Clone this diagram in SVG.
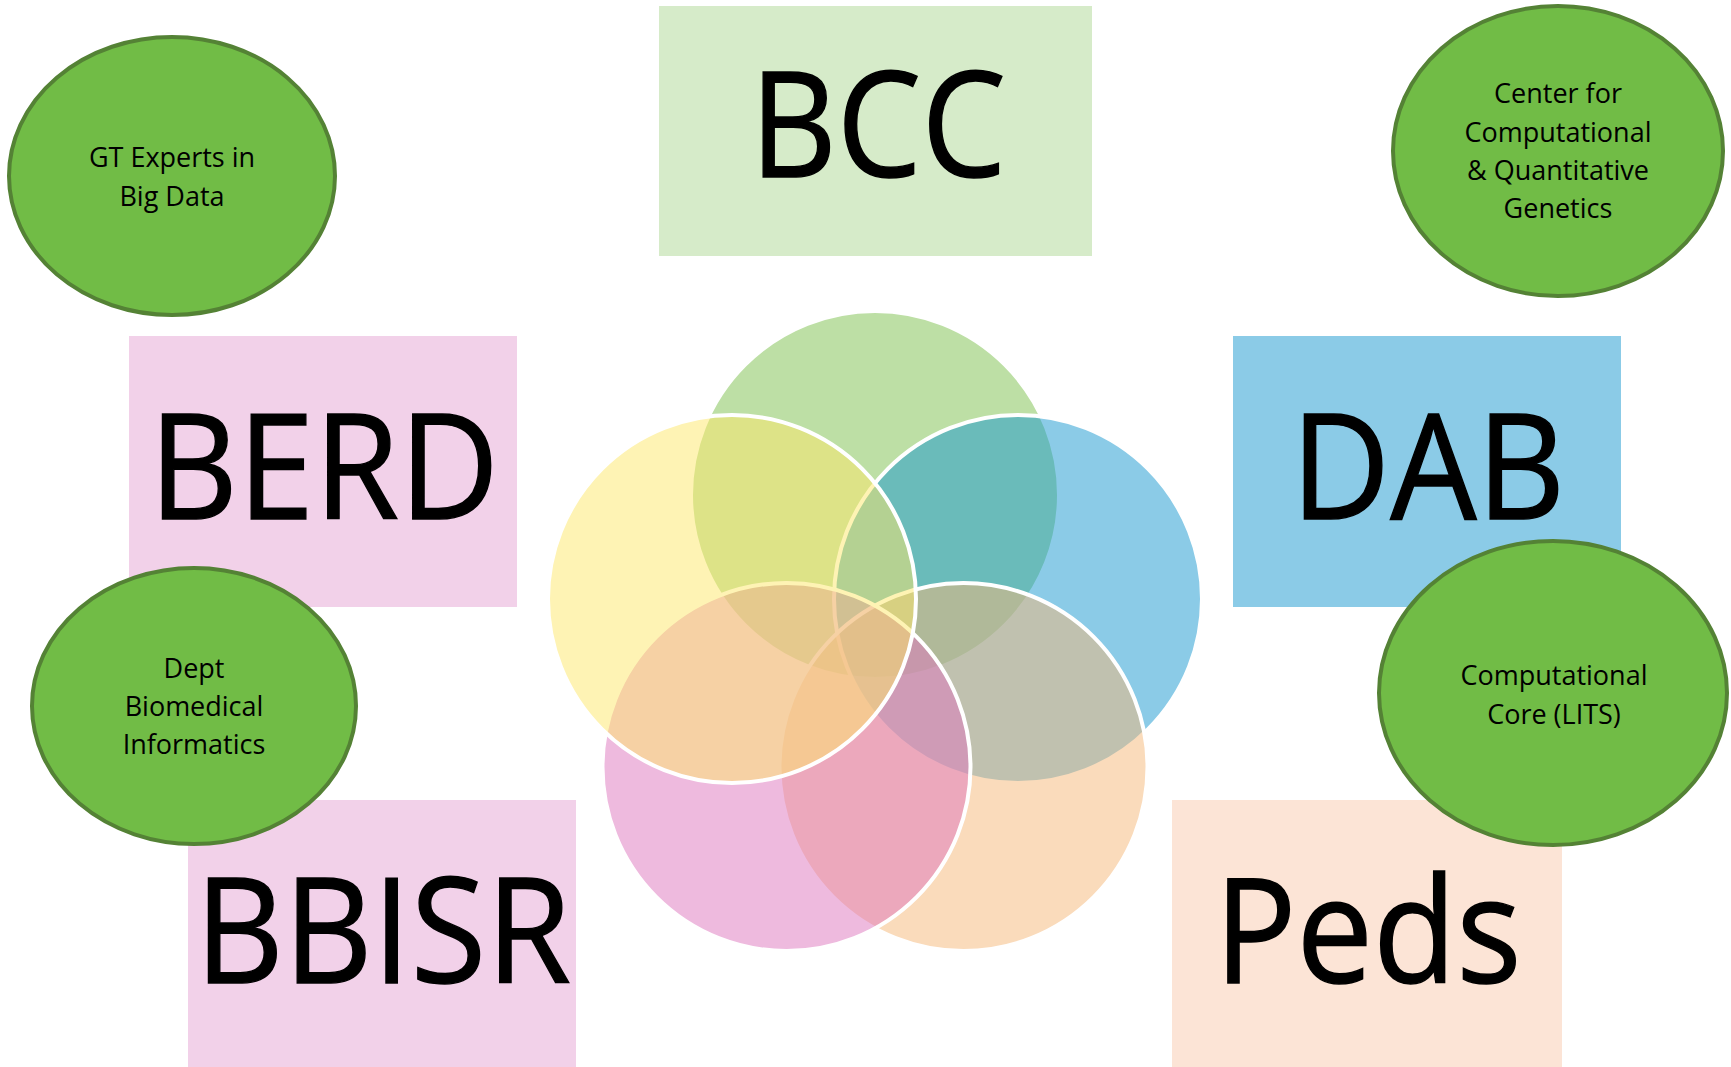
<svg xmlns="http://www.w3.org/2000/svg" width="1731" height="1067" viewBox="0 0 1731 1067">
  <style>
    .label { font-family: "Open Sans", "Liberation Sans", sans-serif; font-size: 146px; fill: #000; stroke: #000; stroke-width: 1.4; text-anchor: middle; }
    .org { fill: #71bc46; stroke: #548235; stroke-width: 4; }
    .orgtxt { font-family: "Open Sans", "Liberation Sans", sans-serif; font-size: 27px; fill: #000; text-anchor: middle; }
    .venn { fill-opacity: 0.5; stroke: #fff; stroke-width: 4; }
  </style>
  <rect width="1731" height="1067" fill="#fff"/>

  <!-- Program boxes -->
  <g id="bcc">
    <rect x="659" y="6" width="433" height="250" fill="#d6ebc9"/>
    <text class="label" x="878" y="177" textLength="256" lengthAdjust="spacingAndGlyphs">BCC</text>
  </g>
  <g id="berd">
    <rect x="129" y="336" width="388" height="271" fill="#f2d1e9"/>
    <text class="label" x="324" y="519" textLength="350" lengthAdjust="spacingAndGlyphs">BERD</text>
  </g>
  <g id="dab">
    <rect x="1233" y="336" width="388" height="271" fill="#8bcbe7"/>
    <text class="label" x="1428" y="519" textLength="274" lengthAdjust="spacingAndGlyphs">DAB</text>
  </g>
  <g id="bbisr">
    <rect x="188" y="800" width="388" height="267" fill="#f2d1e9"/>
    <text class="label" x="383" y="983" textLength="376" lengthAdjust="spacingAndGlyphs">BBISR</text>
  </g>
  <g id="peds">
    <rect x="1172" y="800" width="390" height="267" fill="#fce4d6"/>
    <text class="label" x="1368" y="983" textLength="307" lengthAdjust="spacingAndGlyphs">Peds</text>
  </g>

  <!-- Five-way Venn on a regular pentagon around (875, 645.5); drawn in order, last on top -->
  <g id="venn">
    <circle class="venn" cx="875" cy="495" r="184" fill="#7bbf4b"/>
    <circle class="venn" cx="1018" cy="599" r="184" fill="#1797cf"/>
    <circle class="venn" cx="963.5" cy="767" r="184" fill="#f5b777"/>
    <circle class="venn" cx="786.5" cy="767" r="184" fill="#dd75bd"/>
    <circle class="venn" cx="732" cy="599" r="184" fill="#fde769"/>
  </g>

  <!-- Partner groups -->
  <g id="gt-experts">
    <ellipse class="org" cx="172" cy="176" rx="163" ry="139"/>
    <text class="orgtxt" x="172" y="167">GT Experts in</text>
    <text class="orgtxt" x="172" y="206">Big Data</text>
  </g>
  <g id="cqg">
    <ellipse class="org" cx="1558" cy="151" rx="165" ry="145"/>
    <text class="orgtxt" x="1558" y="103">Center for</text>
    <text class="orgtxt" x="1558" y="142">Computational</text>
    <text class="orgtxt" x="1558" y="180">&amp; Quantitative</text>
    <text class="orgtxt" x="1558" y="218">Genetics</text>
  </g>
  <g id="dbmi">
    <ellipse class="org" cx="194" cy="706" rx="162" ry="138"/>
    <text class="orgtxt" x="194" y="678">Dept</text>
    <text class="orgtxt" x="194" y="716">Biomedical</text>
    <text class="orgtxt" x="194" y="754">Informatics</text>
  </g>
  <g id="lits">
    <ellipse class="org" cx="1553" cy="693" rx="174" ry="152"/>
    <text class="orgtxt" x="1554" y="685">Computational</text>
    <text class="orgtxt" x="1554" y="724">Core (LITS)</text>
  </g>

  <!-- No connectors in this diagram -->
  <g id="connectors"/>
</svg>
